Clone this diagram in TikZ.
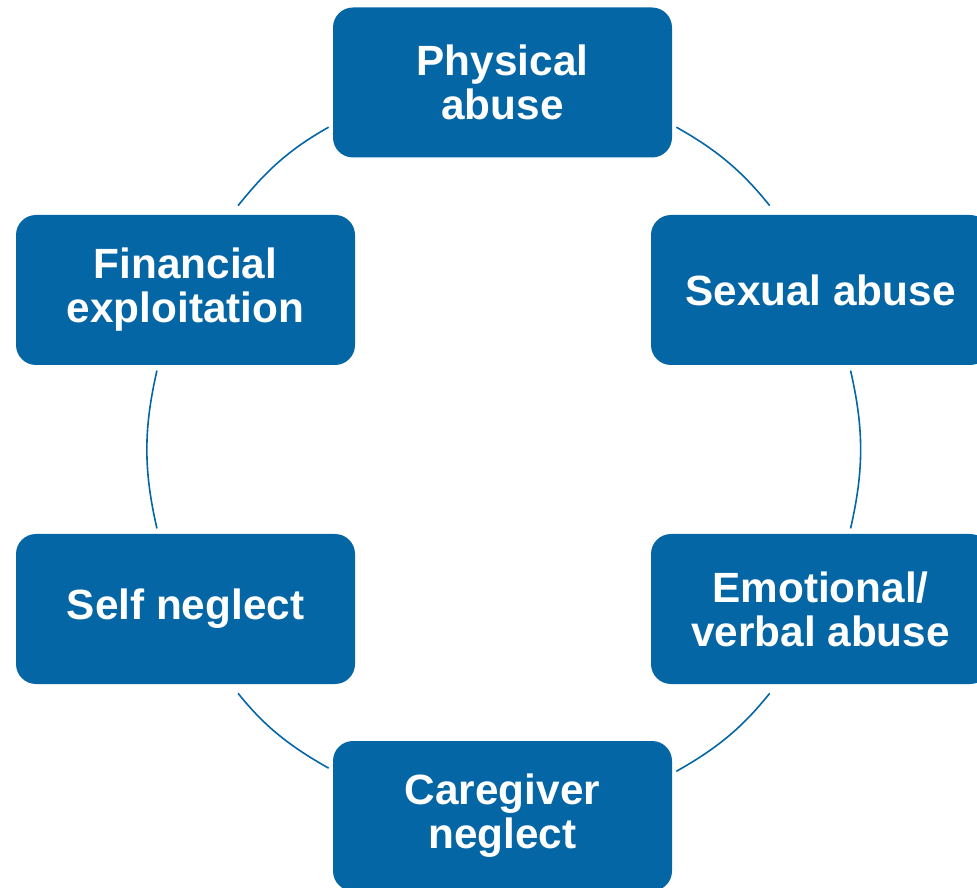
\documentclass[tikz,border=0pt]{standalone}
\usepackage{fontspec}
\setmainfont{Liberation Sans}
\usepackage{tikz}
\definecolor{abuse_blue}{RGB}{4, 102, 165}
\tikzstyle{box}=[rectangle,rounded corners=20pt,fill=abuse_blue,text=white,
  font=\bfseries\fontsize{42.3}{44}\selectfont,align=center,
  minimum width=339pt,minimum height=150pt,inner sep=0pt,outer sep=0pt]
\tikzstyle{ring}=[draw=abuse_blue,line width=1.6pt]

\begin{document}
\begin{tikzpicture}[x=1pt,y=1pt]
        \useasboundingbox (0,0) rectangle (977,887);
        \node [style=box] (0) at (502.5,804.5) {Physical\\abuse};
        \node [style=box] (1) at (820.5,597) {Sexual abuse};
        \node [style=box] (2) at (820.5,278) {Emotional/\\verbal abuse};
        \node [style=box] (3) at (502.5,71) {Caregiver\\neglect};
        \node [style=box] (4) at (185.5,278) {Self neglect};
        \node [style=box] (5) at (185.5,597) {Financial\\exploitation};
        \draw [style=ring,shorten <=5pt,shorten >=12pt] (0.-14.7) to[out=-29.3,in=128.8] (1.120.7);
        \draw [style=ring,shorten <=5.7pt,shorten >=5.7pt] (1.-69.7) to[out=-77.1,in=77.1] (2.69.7);
        \draw [style=ring,shorten <=12pt,shorten >=5pt] (2.-120.7) to[out=-128.8,in=29.3] (3.14.7);
        \draw [style=ring,shorten <=5pt,shorten >=12pt] (3.165.3) to[out=150.7,in=-51.2] (4.-59.8);
        \draw [style=ring,shorten <=5.7pt,shorten >=5.7pt] (4.110.3) to[out=102.9,in=-102.9] (5.-110.3);
        \draw [style=ring,shorten <=12pt,shorten >=5pt] (5.59.8) to[out=51.2,in=209.3] (0.194.7);
    \end{tikzpicture}
\end{document}
